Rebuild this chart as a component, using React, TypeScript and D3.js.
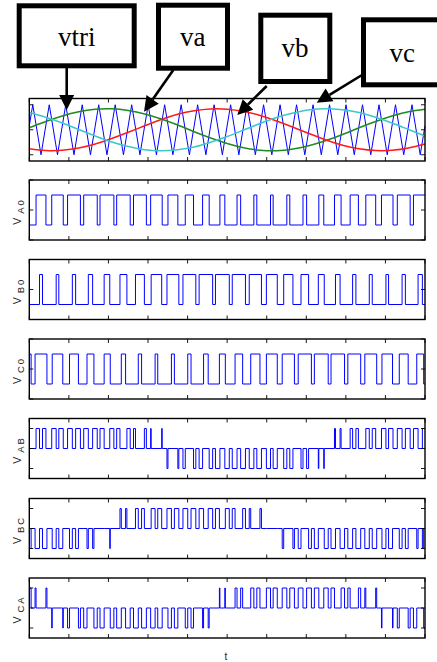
import React from "react";
import * as d3 from "d3";

// time axis in ms (carrier 1 kHz, fundamental 50 Hz)
const T_END = 24;
const xTicks = [0, 2.4, 4.8, 7.2, 9.6, 12, 14.4, 16.8, 19.2, 21.6, 24];

// triangular carrier vertices
const triT = [
  0, 0.21, 0.71, 1.21, 1.71, 2.21, 2.71, 3.21, 3.71, 4.21, 4.71, 5.21, 5.71, 6.21, 6.71, 7.21, 7.71,
  8.21, 8.71, 9.21, 9.71, 10.21, 10.71, 11.21, 11.71, 12.21, 12.71, 13.21, 13.71, 14.21, 14.71,
  15.21, 15.71, 16.21, 16.71, 17.21, 17.71, 18.21, 18.71, 19.21, 19.71, 20.21, 20.71, 21.21,
  21.71, 22.21, 22.71, 23.21, 23.71, 24,
];
const triV = [
  0.16, 1, -1, 1, -1, 1, -1, 1, -1, 1, -1, 1, -1, 1, -1, 1, -1, 1, -1, 1, -1, 1, -1, 1, -1,
  1, -1, 1, -1, 1, -1, 1, -1, 1, -1, 1, -1, 1, -1, 1, -1, 1, -1, 1, -1, 1, -1, 1, -1, 0.16,
];

// reference sines, read every 1 ms
const sineT = [0, 1, 2, 3, 4, 5, 6, 7, 8, 9, 10, 11, 12, 13, 14, 15, 16, 17, 18, 19, 20, 21, 22, 23, 24];
const vaRef = [0.08, 0.33, 0.55, 0.72, 0.82, 0.84, 0.77, 0.63, 0.43, 0.19, -0.08, -0.33, -0.55, -0.72, -0.82, -0.84, -0.77, -0.63, -0.43, -0.19, 0.08, 0.33, 0.55, 0.72, 0.82];
const vbRef = [-0.76, -0.83, -0.82, -0.73, -0.57, -0.35, -0.1, 0.16, 0.41, 0.62, 0.76, 0.83, 0.82, 0.73, 0.57, 0.35, 0.1, -0.16, -0.41, -0.62, -0.76, -0.83, -0.82, -0.73, -0.57];
const vcRef = [0.69, 0.5, 0.27, 0.01, -0.25, -0.49, -0.67, -0.8, -0.84, -0.8, -0.69, -0.5, -0.27, -0.01, 0.25, 0.49, 0.67, 0.8, 0.84, 0.8, 0.69, 0.5, 0.27, 0.01, -0.25];

// leg switching: intervals where the leg is high (+Vdc/2)
const vA0On = [[0.41, 1.01], [1.36, 2.06], [2.32, 3.1], [3.3, 4.12], [4.29, 5.13], [5.3, 6.12], [6.32, 7.1], [7.36, 8.06], [8.41, 9.01], [9.46, 9.96], [10.51, 10.91], [11.56, 11.86], [12.6, 12.82], [13.62, 13.8], [14.63, 14.79], [15.62, 15.8], [16.6, 16.82], [17.56, 17.86], [18.51, 18.91], [19.46, 19.96], [20.41, 21.01], [21.36, 22.06], [22.32, 23.1], [23.3, 24]];
const vB0On = [[0.62, 0.8], [1.63, 1.79], [2.61, 2.81], [3.58, 3.84], [4.54, 4.88], [5.5, 5.92], [6.44, 6.98], [7.39, 8.03], [8.35, 9.07], [9.32, 10.1], [10.3, 11.12], [11.29, 12.13], [12.31, 13.11], [13.34, 14.08], [14.38, 15.04], [15.43, 15.99], [16.48, 16.94], [17.53, 17.89], [18.57, 18.85], [19.61, 19.81], [20.62, 20.8], [21.63, 21.79], [22.61, 22.81], [23.58, 23.84]];
const vC0On = [[0, 0.11], [0.35, 1.07], [1.39, 2.03], [2.44, 2.98], [3.5, 3.92], [4.54, 4.91], [5.58, 5.84], [6.61, 6.81], [7.63, 7.79], [8.62, 8.8], [9.61, 9.81], [10.57, 10.85], [11.53, 11.89], [12.48, 12.94], [13.43, 13.99], [14.38, 15.04], [15.34, 16.08], [16.31, 17.11], [17.29, 18.13], [18.3, 19.12], [19.32, 20.1], [20.35, 21.07], [21.39, 22.03], [22.44, 22.98], [23.5, 23.92]];

const X0 = 29.3;
const X1 = 425;
const x = d3.scaleLinear().domain([0, T_END]).range([X0, X1]);

const legLevel = (on: number[][], t: number) => (on.some(([a, b]) => t >= a && t < b) ? 0.5 : -0.5);

function stepSeries(lists: number[][][], fn: (t: number) => number) {
  const edges = Array.from(new Set([0, T_END, ...lists.flat(2)]))
    .filter((e) => e >= 0 && e <= T_END)
    .sort((a, b) => a - b);
  const pts: [number, number][] = [];
  for (let i = 0; i < edges.length - 1; i++) {
    pts.push([edges[i], fn((edges[i] + edges[i + 1]) / 2)]);
  }
  pts.push([T_END, pts[pts.length - 1][1]]);
  return pts;
}

const lowerPanels = [
  { sub: "A0", dom: 1, ticks: [-1, 0, 1], data: stepSeries([vA0On], (t) => legLevel(vA0On, t)) },
  { sub: "B0", dom: 1, ticks: [-1, 0, 1], data: stepSeries([vB0On], (t) => legLevel(vB0On, t)) },
  { sub: "C0", dom: 1, ticks: [-1, 0, 1], data: stepSeries([vC0On], (t) => legLevel(vC0On, t)) },
  { sub: "AB", dom: 1.5, ticks: [-1, 0, 1], data: stepSeries([vA0On, vB0On], (t) => legLevel(vA0On, t) - legLevel(vB0On, t)) },
  { sub: "BC", dom: 1.5, ticks: [-1, 0, 1], data: stepSeries([vB0On, vC0On], (t) => legLevel(vB0On, t) - legLevel(vC0On, t)) },
  { sub: "CA", dom: 1.5, ticks: [-1, 0, 1], data: stepSeries([vC0On, vA0On], (t) => legLevel(vC0On, t) - legLevel(vA0On, t)) },
];
const panelTops = [180, 259.5, 339, 418.5, 498.5, 578];
const PH = 60;

const SANS = "'Liberation Sans', Arial, Helvetica, sans-serif";
const SERIF = "'Liberation Serif', 'DejaVu Serif', 'Times New Roman', serif";
const TL = 4;

function Frame({ top, h, y, yTicks }: { top: number; h: number; y: d3.ScaleLinear<number, number>; yTicks: number[] }) {
  const bot = top + h;
  return (
    <g stroke="#000" fill="none">
      {xTicks.map((t, i) => (
        <g key={"x" + i} strokeWidth={0.9}>
          <line x1={x(t)} x2={x(t)} y1={top} y2={top + TL} />
          <line x1={x(t)} x2={x(t)} y1={bot} y2={bot - TL} />
        </g>
      ))}
      {yTicks.map((v, i) => (
        <g key={"y" + i} strokeWidth={0.9}>
          <line x1={X0} x2={X0 + TL} y1={y(v)} y2={y(v)} />
          <line x1={X1} x2={X1 - TL} y1={y(v)} y2={y(v)} />
        </g>
      ))}
      <rect x={X0} y={top} width={X1 - X0} height={h} strokeWidth={1.4} />
    </g>
  );
}

function Callout({ bx, by, bw, bh, label, tx, ty, from, tip }: any) {
  const dx = tip[0] - from[0];
  const dy = tip[1] - from[1];
  const len = Math.hypot(dx, dy);
  const ux = dx / len;
  const uy = dy / len;
  const hl = 15;
  const hw = 7.5;
  const base = [tip[0] - ux * hl, tip[1] - uy * hl];
  const head = [
    [tip[0], tip[1]],
    [base[0] - uy * hw, base[1] + ux * hw],
    [base[0] + uy * hw, base[1] - ux * hw],
  ];
  return (
    <g>
      <line x1={from[0]} y1={from[1]} x2={base[0]} y2={base[1]} stroke="#000" strokeWidth={2.6} />
      <polygon points={head.map((p) => p.join(",")).join(" ")} fill="#000" />
      <rect x={bx} y={by} width={bw} height={bh} fill="#fff" stroke="#000" strokeWidth={5} />
      <text x={tx} y={ty} textAnchor="middle" style={{ fontFamily: SERIF }} fontSize={27} fill="#000">
        {label}
      </text>
    </g>
  );
}

export default function App() {
  const topY = d3.scaleLinear().domain([-1.25, 1.25]).range([161, 98.5]);
  const sineLine = (vals: number[]) =>
    d3
      .line<number>()
      .x((_, i) => x(sineT[i]))
      .y((d) => topY(d))
      .curve(d3.curveNatural)(vals) as string;
  const triPath = d3
    .line<number>()
    .x((_, i) => x(triT[i]))
    .y((d) => topY(d))(triV) as string;

  return (
    <svg width={437} height={662} style={{ position: "absolute", left: 0, top: 0, background: "#fff" }}>
      <rect width={437} height={662} fill="#fff" />

      {/* reference / carrier panel */}
      <path d={triPath} fill="none" stroke="#0000ff" strokeWidth={1} />
      <path d={sineLine(vaRef)} fill="none" stroke="#1f8a1f" strokeWidth={1.5} />
      <path d={sineLine(vbRef)} fill="none" stroke="#ff1a1a" strokeWidth={1.5} />
      <path d={sineLine(vcRef)} fill="none" stroke="#3cc8c8" strokeWidth={1.5} />
      <Frame top={98.5} h={62.5} y={topY} yTicks={[-1, 0, 1]} />

      {lowerPanels.map((p, i) => {
        const top = panelTops[i];
        const y = d3.scaleLinear().domain([-p.dom, p.dom]).range([top + PH, top]);
        const path = d3
          .line<[number, number]>()
          .x((d) => x(d[0]))
          .y((d) => y(d[1]))
          .curve(d3.curveStepAfter)(p.data) as string;
        const cy = top + PH / 2 + 1.5;
        return (
          <g key={p.sub}>
            <path d={path} fill="none" stroke="#0000ff" strokeWidth={1} />
            <Frame top={top} h={PH} y={y} yTicks={p.ticks} />
            <text
              transform={`translate(20.5,${cy}) rotate(-90)`}
              textAnchor="middle"
              style={{ fontFamily: SANS }}
              fontSize={10.5}
              fill="#222"
            >
              V
              <tspan fontSize={9.5} dx={4} dy={3.2} letterSpacing={2}>
                {p.sub}
              </tspan>
            </text>
          </g>
        );
      })}

      <text x={226} y={660} textAnchor="middle" style={{ fontFamily: SANS }} fontSize={10} fill="#222">
        t
      </text>

      <Callout bx={19.2} by={5.8} bw={115} bh={60} label="vtri" tx={76.7} ty={45.7} from={[66.7, 68]} tip={[66.7, 110]} />
      <Callout bx={158.5} by={5.2} bw={69} bh={63} label="va" tx={192.7} ty={45.7} from={[173.3, 70]} tip={[144, 111.7]} />
      <Callout bx={260.8} by={15.2} bw={69} bh={66.3} label="vb" tx={295} ty={57.3} from={[266.7, 86]} tip={[237.3, 115]} />
      <Callout bx={363.5} by={19.8} bw={80} bh={65} label="vc" tx={402.3} ty={61.7} from={[362, 75]} tip={[316.7, 102.7]} />
    </svg>
  );
}
